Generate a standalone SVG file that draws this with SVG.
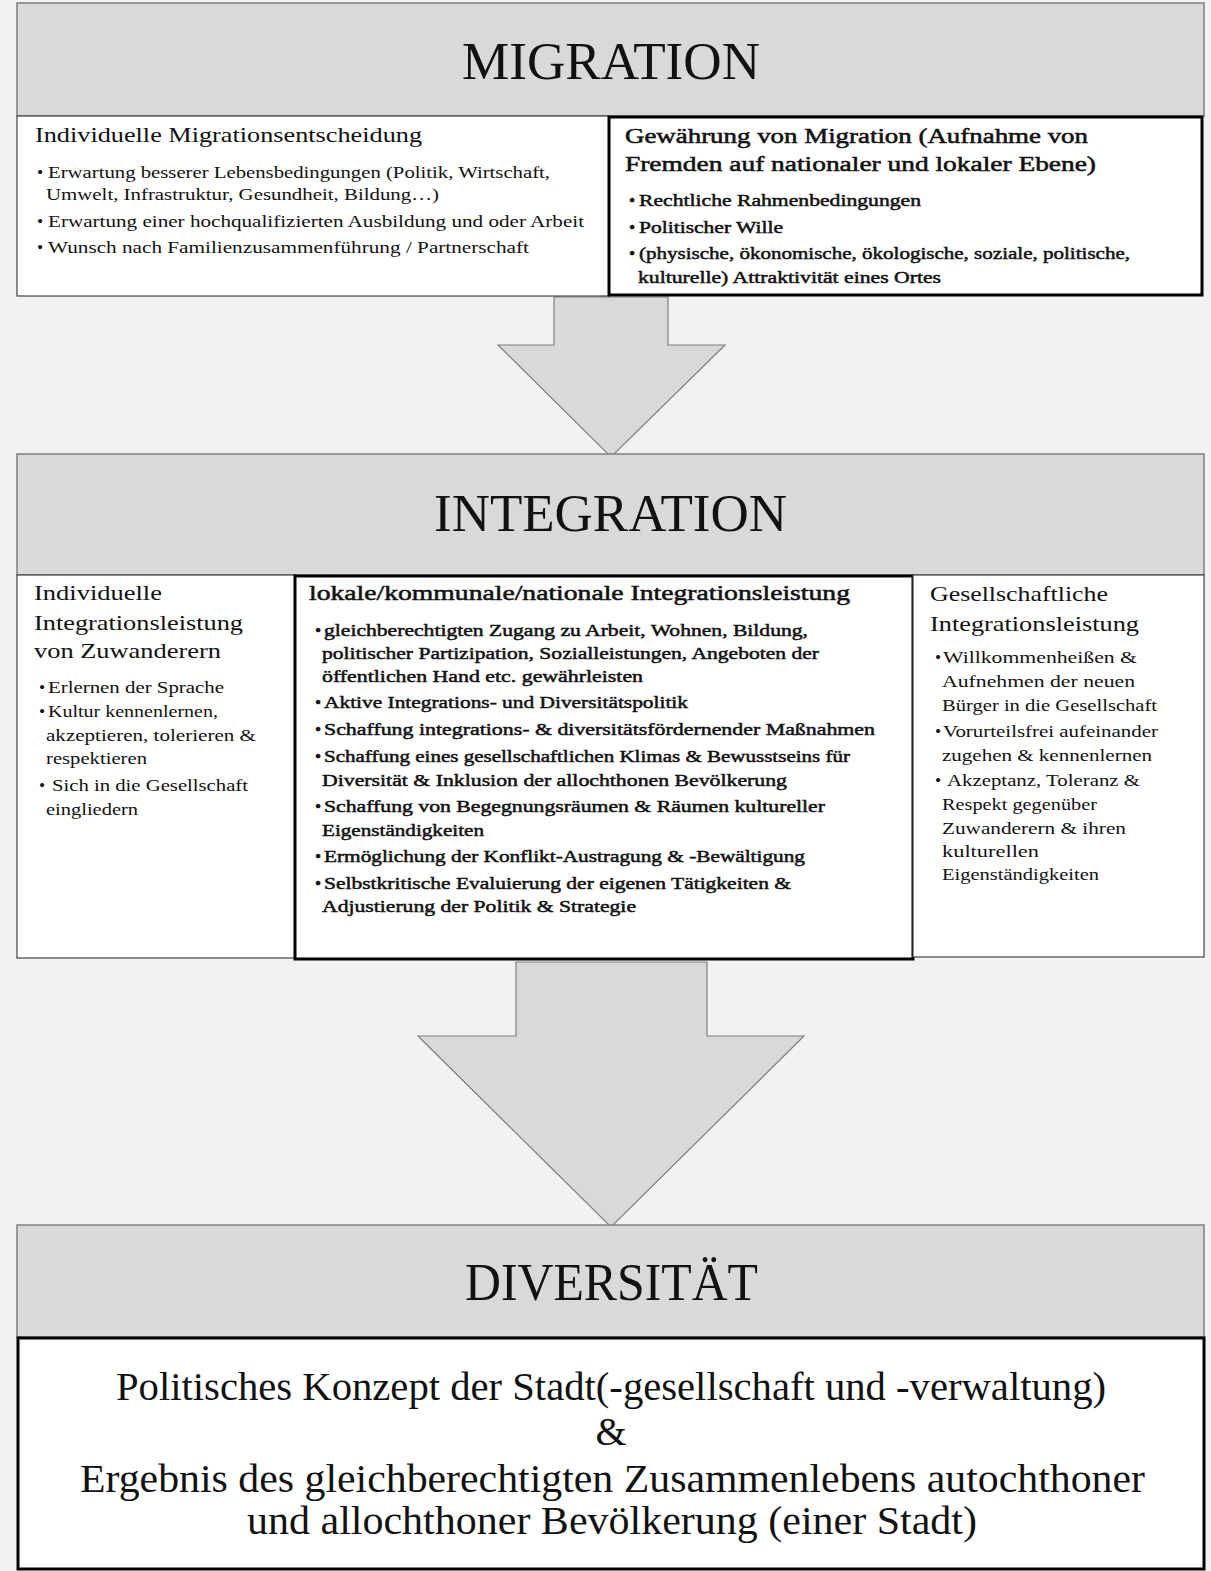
<svg xmlns="http://www.w3.org/2000/svg" width="1211" height="1571" viewBox="0 0 1211 1571">
  <style>
    .bg { fill: #f2f2f2; }
    .hdr { fill: #d9d9d9; stroke: #7f7f7f; stroke-width: 1.5; }
    .box { fill: #ffffff; stroke: #404040; stroke-width: 1.2; }
    .box-strong { fill: #ffffff; stroke: #000000; stroke-width: 3; }
    .arrow { fill: #d9d9d9; stroke: #7f7f7f; stroke-width: 1.2; }
    text { font-family: "Liberation Serif", "Times New Roman", serif; fill: #111111; }
    .title { font-size: 52px; }
    .head { font-size: 22px; }
    .item { font-size: 17.5px; }
    /* medium weight: regular face with a fine outline */
    .head-m { font-size: 22px; stroke: #111111; stroke-width: 0.55; }
    .item-m { font-size: 17.5px; stroke: #111111; stroke-width: 0.5; }
    .result { font-size: 40px; }
  </style>

  <rect class="bg" x="0" y="0" width="1211" height="1571"/>

  <!-- connectors: block arrows between the three stages -->
  <g id="connectors">
    <polygon id="arrow-migration-integration" class="arrow" points="554,297 668,297 668,345 725,345 611,457 498,345 554,345"/>
    <polygon id="arrow-integration-diversitaet" class="arrow" points="516,962 707,962 707,1036 804,1036 611,1227 418,1036 516,1036"/>
  </g>

  <!-- stage 1 -->
  <g id="header-migration">
    <rect class="hdr" x="17" y="3" width="1187" height="113"/>
    <text class="title" x="462" y="79" textLength="298" lengthAdjust="spacingAndGlyphs">MIGRATION</text>
  </g>

  <g id="box-individuelle-migration">
    <rect class="box" x="17" y="116" width="592" height="180"/>
    <text class="head" x="35" y="142" textLength="387" lengthAdjust="spacingAndGlyphs">Individuelle Migrationsentscheidung</text>
    <text class="item" x="37" y="178">•</text>
    <text class="item" x="48" y="178" textLength="502" lengthAdjust="spacingAndGlyphs">Erwartung besserer Lebensbedingungen (Politik, Wirtschaft,</text>
    <text class="item" x="46" y="200" textLength="393" lengthAdjust="spacingAndGlyphs">Umwelt, Infrastruktur, Gesundheit, Bildung…)</text>
    <text class="item" x="37" y="227">•</text>
    <text class="item" x="48" y="227" textLength="536" lengthAdjust="spacingAndGlyphs">Erwartung einer hochqualifizierten Ausbildung und oder Arbeit</text>
    <text class="item" x="37" y="253">•</text>
    <text class="item" x="48" y="253" textLength="481" lengthAdjust="spacingAndGlyphs">Wunsch nach Familienzusammenführung / Partnerschaft</text>
  </g>

  <g id="box-gewaehrung">
    <rect class="box-strong" x="609" y="117" width="593" height="178"/>
    <text class="head-m" x="625" y="143" textLength="463" lengthAdjust="spacingAndGlyphs">Gewährung von Migration (Aufnahme von</text>
    <text class="head-m" x="625" y="171" textLength="471" lengthAdjust="spacingAndGlyphs">Fremden auf nationaler und lokaler Ebene)</text>
    <text class="item-m" x="629" y="206">•</text>
    <text class="item-m" x="639" y="206" textLength="282" lengthAdjust="spacingAndGlyphs">Rechtliche Rahmenbedingungen</text>
    <text class="item-m" x="629" y="233">•</text>
    <text class="item-m" x="639" y="233" textLength="144" lengthAdjust="spacingAndGlyphs">Politischer Wille</text>
    <text class="item-m" x="629" y="259">•</text>
    <text class="item-m" x="639" y="259" textLength="491" lengthAdjust="spacingAndGlyphs">(physische, ökonomische, ökologische, soziale, politische,</text>
    <text class="item-m" x="638" y="283" textLength="303" lengthAdjust="spacingAndGlyphs">kulturelle) Attraktivität eines Ortes</text>
  </g>

  <!-- stage 2 -->
  <g id="header-integration">
    <rect class="hdr" x="17" y="454" width="1187" height="121"/>
    <text class="title" x="434" y="531" textLength="353" lengthAdjust="spacingAndGlyphs">INTEGRATION</text>
  </g>

  <g id="box-individuelle-integration">
    <rect class="box" x="17" y="575" width="278" height="383"/>
    <text class="head" x="34" y="600" font-size="23" textLength="128" lengthAdjust="spacingAndGlyphs">Individuelle</text>
    <text class="head" x="34" y="630" font-size="23" textLength="209" lengthAdjust="spacingAndGlyphs">Integrationsleistung</text>
    <text class="head" x="34" y="658" font-size="23" textLength="187" lengthAdjust="spacingAndGlyphs">von Zuwanderern</text>
    <text class="item" x="39" y="693">•</text>
    <text class="item" x="48" y="693" textLength="176" lengthAdjust="spacingAndGlyphs">Erlernen der Sprache</text>
    <text class="item" x="39" y="717">•</text>
    <text class="item" x="48" y="717" textLength="170" lengthAdjust="spacingAndGlyphs">Kultur kennenlernen,</text>
    <text class="item" x="46" y="741" textLength="210" lengthAdjust="spacingAndGlyphs">akzeptieren, tolerieren &amp;</text>
    <text class="item" x="46" y="764" textLength="101" lengthAdjust="spacingAndGlyphs">respektieren</text>
    <text class="item" x="39" y="791">•</text>
    <text class="item" x="52" y="791" textLength="196" lengthAdjust="spacingAndGlyphs">Sich in die Gesellschaft</text>
    <text class="item" x="46" y="815" textLength="92" lengthAdjust="spacingAndGlyphs">eingliedern</text>
  </g>

  <g id="box-kommunale-integration">
    <rect class="box-strong" x="295" y="576" width="618" height="383"/>
    <text class="head-m" x="309" y="600" textLength="541" lengthAdjust="spacingAndGlyphs">lokale/kommunale/nationale Integrationsleistung</text>
    <text class="item-m" x="315" y="636">•</text>
    <text class="item-m" x="324" y="636" textLength="484" lengthAdjust="spacingAndGlyphs">gleichberechtigten Zugang zu Arbeit, Wohnen, Bildung,</text>
    <text class="item-m" x="322" y="659" textLength="497" lengthAdjust="spacingAndGlyphs">politischer Partizipation, Sozialleistungen, Angeboten der</text>
    <text class="item-m" x="322" y="682" textLength="321" lengthAdjust="spacingAndGlyphs">öffentlichen Hand etc.  gewährleisten</text>
    <text class="item-m" x="315" y="708">•</text>
    <text class="item-m" x="324" y="708" textLength="364" lengthAdjust="spacingAndGlyphs">Aktive Integrations- und Diversitätspolitik</text>
    <text class="item-m" x="315" y="735">•</text>
    <text class="item-m" x="324" y="735" textLength="551" lengthAdjust="spacingAndGlyphs">Schaffung integrations-  &amp; diversitätsfördernender Maßnahmen</text>
    <text class="item-m" x="315" y="762">•</text>
    <text class="item-m" x="324" y="762" textLength="526" lengthAdjust="spacingAndGlyphs">Schaffung eines gesellschaftlichen  Klimas &amp; Bewusstseins für</text>
    <text class="item-m" x="322" y="786" textLength="465" lengthAdjust="spacingAndGlyphs">Diversität &amp; Inklusion der allochthonen Bevölkerung</text>
    <text class="item-m" x="315" y="812">•</text>
    <text class="item-m" x="324" y="812" textLength="501" lengthAdjust="spacingAndGlyphs">Schaffung von Begegnungsräumen &amp; Räumen kultureller</text>
    <text class="item-m" x="322" y="836" textLength="162" lengthAdjust="spacingAndGlyphs">Eigenständigkeiten</text>
    <text class="item-m" x="315" y="862">•</text>
    <text class="item-m" x="324" y="862" textLength="481" lengthAdjust="spacingAndGlyphs">Ermöglichung der Konflikt-Austragung &amp; -Bewältigung</text>
    <text class="item-m" x="315" y="889">•</text>
    <text class="item-m" x="324" y="889" textLength="467" lengthAdjust="spacingAndGlyphs">Selbstkritische Evaluierung der eigenen Tätigkeiten &amp;</text>
    <text class="item-m" x="322" y="912" textLength="314" lengthAdjust="spacingAndGlyphs">Adjustierung der Politik &amp; Strategie</text>
  </g>

  <g id="box-gesellschaftliche-integration">
    <rect class="box" x="913" y="575" width="291" height="382"/>
    <text class="head" x="930" y="601" font-size="23" textLength="178" lengthAdjust="spacingAndGlyphs">Gesellschaftliche</text>
    <text class="head" x="930" y="631" font-size="23" textLength="209" lengthAdjust="spacingAndGlyphs">Integrationsleistung</text>
    <text class="item" x="935" y="663">•</text>
    <text class="item" x="943" y="663" textLength="194" lengthAdjust="spacingAndGlyphs">Willkommenheißen &amp;</text>
    <text class="item" x="942" y="687" textLength="193" lengthAdjust="spacingAndGlyphs">Aufnehmen der neuen</text>
    <text class="item" x="942" y="711" textLength="215" lengthAdjust="spacingAndGlyphs">Bürger in die Gesellschaft</text>
    <text class="item" x="935" y="737">•</text>
    <text class="item" x="943" y="737" textLength="215" lengthAdjust="spacingAndGlyphs">Vorurteilsfrei aufeinander</text>
    <text class="item" x="942" y="761" textLength="210" lengthAdjust="spacingAndGlyphs">zugehen &amp; kennenlernen</text>
    <text class="item" x="935" y="786">•</text>
    <text class="item" x="947" y="786" textLength="193" lengthAdjust="spacingAndGlyphs">Akzeptanz, Toleranz &amp;</text>
    <text class="item" x="942" y="810" textLength="155" lengthAdjust="spacingAndGlyphs">Respekt gegenüber</text>
    <text class="item" x="942" y="834" textLength="184" lengthAdjust="spacingAndGlyphs">Zuwanderern &amp; ihren</text>
    <text class="item" x="942" y="857" textLength="97" lengthAdjust="spacingAndGlyphs">kulturellen</text>
    <text class="item" x="942" y="880" textLength="157" lengthAdjust="spacingAndGlyphs">Eigenständigkeiten</text>
  </g>

  <!-- stage 3 -->
  <g id="header-diversitaet">
    <rect class="hdr" x="17" y="1225" width="1187" height="112"/>
    <text class="title" x="465" y="1300" textLength="293" lengthAdjust="spacingAndGlyphs">DIVERSITÄT</text>
  </g>

  <g id="box-diversitaet">
    <rect class="box-strong" x="18" y="1338" width="1186" height="231"/>
    <text class="result" x="116" y="1400" textLength="990" lengthAdjust="spacingAndGlyphs">Politisches Konzept der Stadt(-gesellschaft und -verwaltung)</text>
    <text class="result" x="611" y="1445" text-anchor="middle">&amp;</text>
    <text class="result" x="80" y="1492" textLength="1065" lengthAdjust="spacingAndGlyphs">Ergebnis des gleichberechtigten Zusammenlebens autochthoner</text>
    <text class="result" x="247" y="1534" textLength="730" lengthAdjust="spacingAndGlyphs">und allochthoner Bevölkerung (einer Stadt)</text>
  </g>
</svg>
